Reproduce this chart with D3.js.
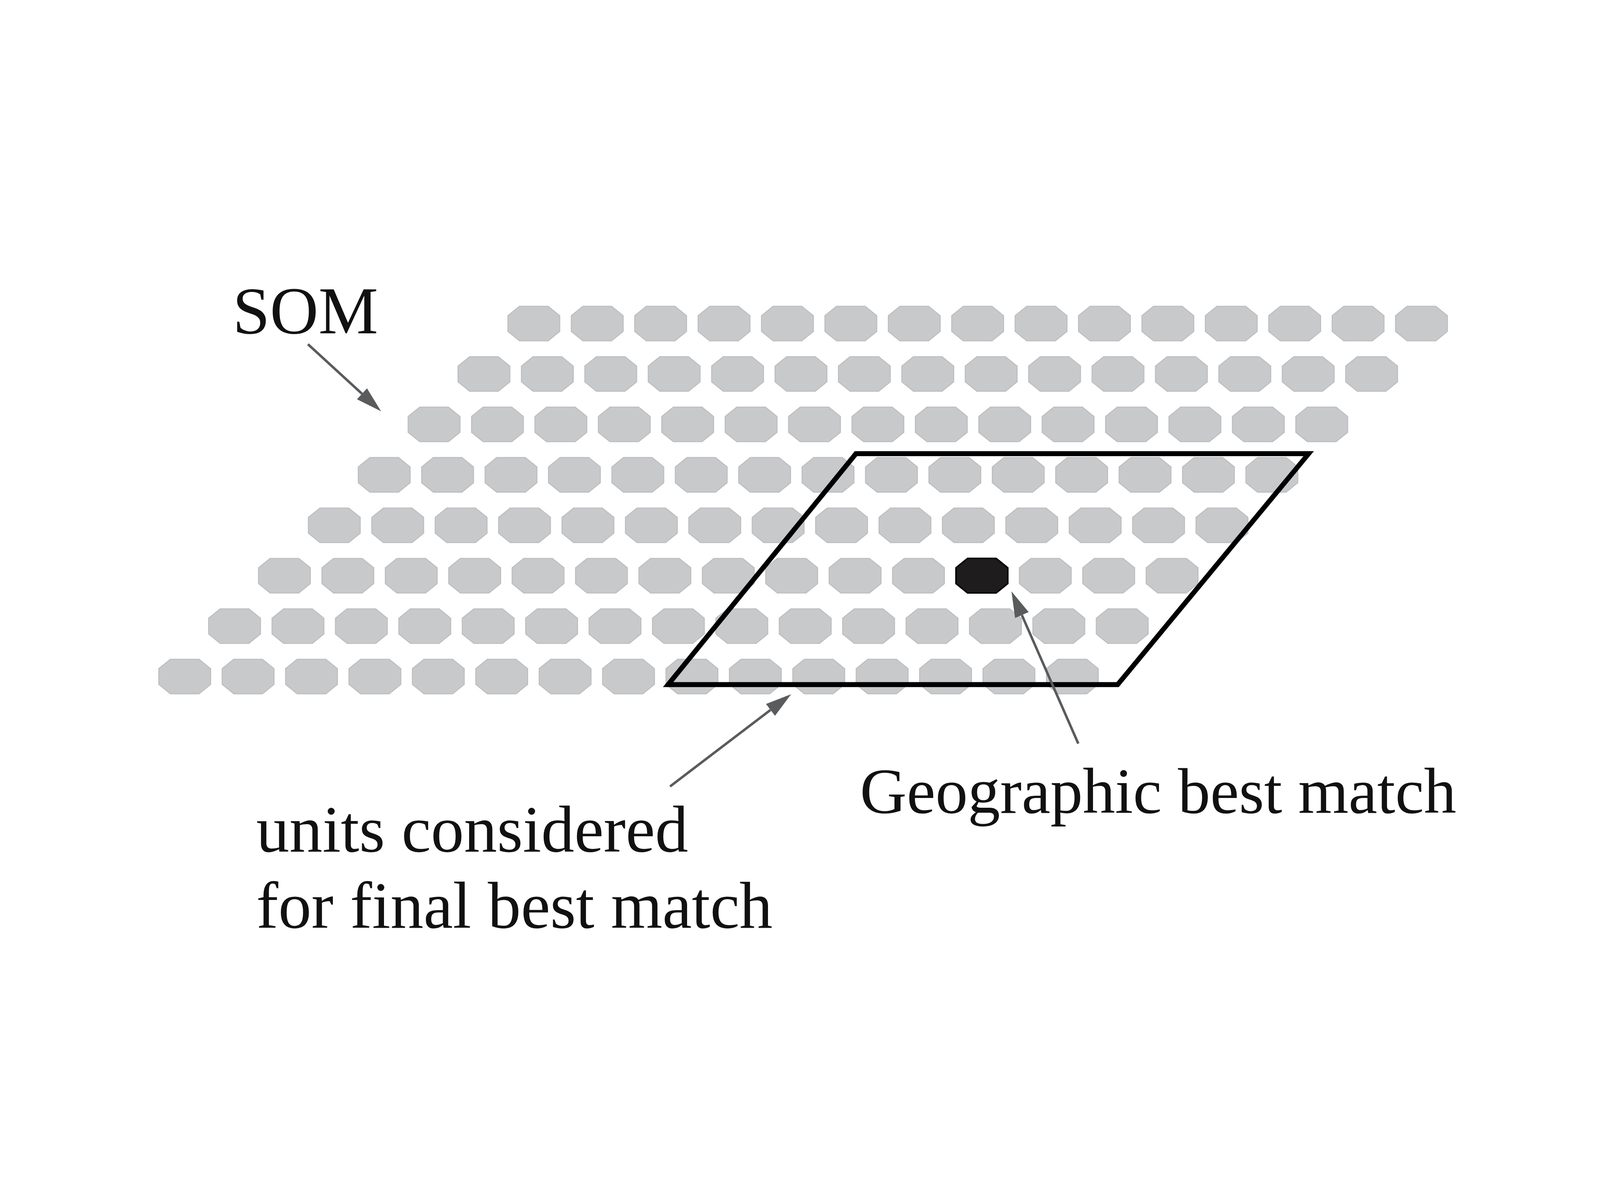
<!DOCTYPE html>
<html>
<head>
<meta charset="utf-8">
<script src="https://cdn.jsdelivr.net/npm/d3@7"></script>
<style>
  html, body { margin: 0; padding: 0; background: #fff; overflow: hidden; }
  svg { display: block; }
  text { font-family: "Liberation Serif", "Times New Roman", serif; fill: #111; }
</style>
</head>
<body>
<div id="chart"></div>
<script>
// grid of SOM units (row, column indices)
const rows = [0, 1, 2, 3, 4, 5, 6, 7];
const cols = [0, 1, 2, 3, 4, 5, 6, 7, 8, 9, 10, 11, 12, 13, 14];
const bestMatch = { row: 5, col: 11 };

// frame around the units considered, in grid units
const frameRows = [2.58, 2.58, 7.16, 7.16];
const frameCols = [7.11, 14.25, 14.84, 7.75];

// arrows, in grid units
const arrowNames = ["som", "units", "geo"];
const arrowFrom = [[0.41, -3.24], [9.18, 9.37], [8.33, 15.14]];
const arrowTo = [[1.74, -1.04], [7.35, 9.84], [5.31, 11.71]];

const labelLines = ["SOM", "units considered", "for final best match", "Geographic best match"];

drawSom();

function drawSom() {
    const W = 6480, H = 3058;

    // drawn in a 6480x3058 space, scaled to whatever the window is
    const svg = d3.select("#chart")
        .append("svg")
        .attr("viewBox", "0 0 " + W + " " + H)
        .attr("preserveAspectRatio", "xMidYMid meet")
        .style("width", "100vw")
        .style("height", "100vh");

    const y = d3.scaleLinear().domain([0, 7]).range([420, 1849]);
    const x = d3.scaleLinear().domain([0, 14]).range([2162, 5757]);
    // each row slides to the left, that gives the slanted sheet
    const skew = d3.scaleLinear().domain([0, 7]).range([0, -1414]);

    const px = (r, c) => x(c) + skew(r);

    // octagon shaped unit
    const hw = 105, hh = 70;
    const octo = [[-hw, -32], [-58, -hh], [58, -hh], [hw, -32], [hw, 32], [58, hh], [-58, hh], [-hw, 32]];
    const octPath = d3.line().curve(d3.curveLinearClosed)(octo);

    const units = [];
    rows.forEach(r => cols.forEach(c => units.push({ row: r, col: c })));

    svg.append("g")
        .selectAll(".unit")
        .data(units.filter(d => !(d.row === bestMatch.row && d.col === bestMatch.col)))
        .enter()
        .append("path")
        .attr("class", "unit")
        .attr("d", octPath)
        .attr("transform", d => "translate(" + px(d.row, d.col) + "," + y(d.row) + ")")
        .style("fill", "#c8c9cb")
        .style("stroke", "#bdbec1")
        .style("stroke-width", 4);

    // frame
    const frame = frameRows.map((r, i) => [px(r, frameCols[i]), y(frameRows[i])]);
    svg.append("path")
        .attr("d", d3.line().curve(d3.curveLinearClosed)(frame))
        .style("fill", "none")
        .style("stroke", "#000")
        .style("stroke-width", 20)
        .style("stroke-linejoin", "miter");

    // geographic best match
    svg.append("path")
        .attr("d", octPath)
        .attr("transform", "translate(" + px(bestMatch.row, bestMatch.col) + "," + y(bestMatch.row) + ")")
        .style("fill", "#1f1c1d")
        .style("stroke", "#000")
        .style("stroke-width", 6);

    // arrows
    const arrowG = svg.append("g");
    arrowNames.forEach((name, i) => {
        const x1 = px(arrowFrom[i][0], arrowFrom[i][1]), y1 = y(arrowFrom[i][0]);
        const x2 = px(arrowTo[i][0], arrowTo[i][1]), y2 = y(arrowTo[i][0]);
        const len = Math.hypot(x2 - x1, y2 - y1);
        const ux = (x2 - x1) / len, uy = (y2 - y1) / len;
        const headL = 105, headW = 30;
        const bx = x2 - ux * headL, by = y2 - uy * headL;

        arrowG.append("line")
            .attr("class", "arrow-" + name)
            .attr("x1", x1).attr("y1", y1)
            .attr("x2", bx).attr("y2", by)
            .style("stroke", "#5a5b5d")
            .style("stroke-width", 10);

        arrowG.append("path")
            .attr("d", d3.line().curve(d3.curveLinearClosed)([
                [x2, y2],
                [bx - uy * headW, by + ux * headW],
                [bx + uy * headW, by - ux * headW]
            ]))
            .style("fill", "#5a5b5d");
    });

    // labels
    svg.append("text")
        .attr("x", 942).attr("y", 459)
        .style("font-size", "272px")
        .text(labelLines[0]);

    svg.append("text")
        .attr("x", 1038).attr("y", 2558)
        .style("font-size", "268px")
        .text(labelLines[1]);

    svg.append("text")
        .attr("x", 1038).attr("y", 2866)
        .style("font-size", "268px")
        .text(labelLines[2]);

    svg.append("text")
        .attr("x", 3483).attr("y", 2401)
        .style("font-size", "262px")
        .text(labelLines[3]);
}
</script>
</body>
</html>
